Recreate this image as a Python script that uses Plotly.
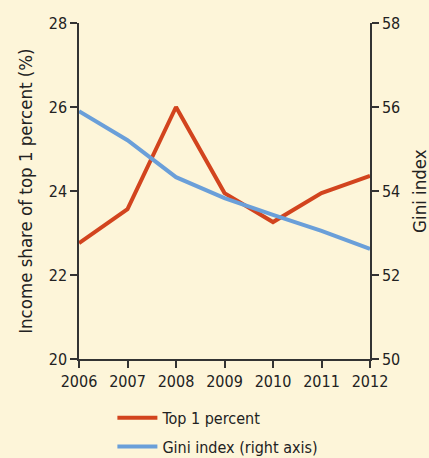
import plotly.graph_objects as go

years = [2006, 2007, 2008, 2009, 2010, 2011, 2012]
top1 = [22.76, 23.57, 26.0, 23.95, 23.26, 23.95, 24.36]
gini = [55.9, 55.21, 54.33, 53.83, 53.43, 53.05, 52.62]
left_ticks = [20, 22, 24, 26, 28]
right_ticks = [50, 52, 54, 56, 58]
left_title = "Income share of top 1 percent (%)"
right_title = "Gini index"

RED = "#D2441E"
BLUE = "#6A9FD9"
BG = "#FDF5D9"
AX = "#333333"
FONT = "DejaVu Sans Condensed, sans-serif"
FS = 16
TFS = 18.5

fig = go.Figure()
fig.add_trace(go.Scatter(x=years, y=top1, mode="lines", name="Top 1 percent",
                         legendgroup="a",
                         line=dict(color=RED, width=4)))
fig.add_trace(go.Scatter(x=years, y=gini, mode="lines", name="Gini index (right axis)",
                         legendgroup="b",
                         line=dict(color=BLUE, width=4), yaxis="y2"))

fig.update_layout(
    width=429, height=458,
    paper_bgcolor=BG, plot_bgcolor=BG,
    margin=dict(l=79, r=59, t=23, b=99, autoexpand=False),
    font=dict(family=FONT, size=FS, color="#222222"),
    showlegend=True,
    legend=dict(x=0.262, xref="container", xanchor="left",
                y=0.125, yref="container", yanchor="top",
                bgcolor="rgba(0,0,0,0)", font=dict(size=FS),
                traceorder="grouped", tracegroupgap=5, itemwidth=40),
    xaxis=dict(range=[2006, 2012], tickvals=years, showgrid=False, zeroline=False,
               showline=True, linecolor=AX, linewidth=1.5,
               ticks="outside", ticklen=7, tickcolor=AX, tickwidth=1.5),
    yaxis=dict(range=[20, 28], tickvals=left_ticks, showgrid=False, zeroline=False,
               showline=True, linecolor=AX, linewidth=1.5,
               ticks="outside", ticklen=7, tickcolor=AX, tickwidth=1.5),
    yaxis2=dict(range=[50, 58], tickvals=right_ticks, overlaying="y", side="right",
                showgrid=False, zeroline=False,
                showline=True, linecolor=AX, linewidth=1.5,
                ticks="outside", ticklen=7, tickcolor=AX, tickwidth=1.5),
    annotations=[
        dict(text=left_title, xref="paper", yref="paper", x=-0.186, y=0.5,
             xanchor="center", yanchor="middle", textangle=-90, showarrow=False,
             font=dict(size=TFS)),
        dict(text=right_title, xref="paper", yref="paper", x=1.168, y=0.5,
             xanchor="center", yanchor="middle", textangle=-90, showarrow=False,
             font=dict(size=TFS)),
    ],
)

fig.write_html("out.html", config={"displayModeBar": False},
               post_script="document.body.style.margin='0';")
